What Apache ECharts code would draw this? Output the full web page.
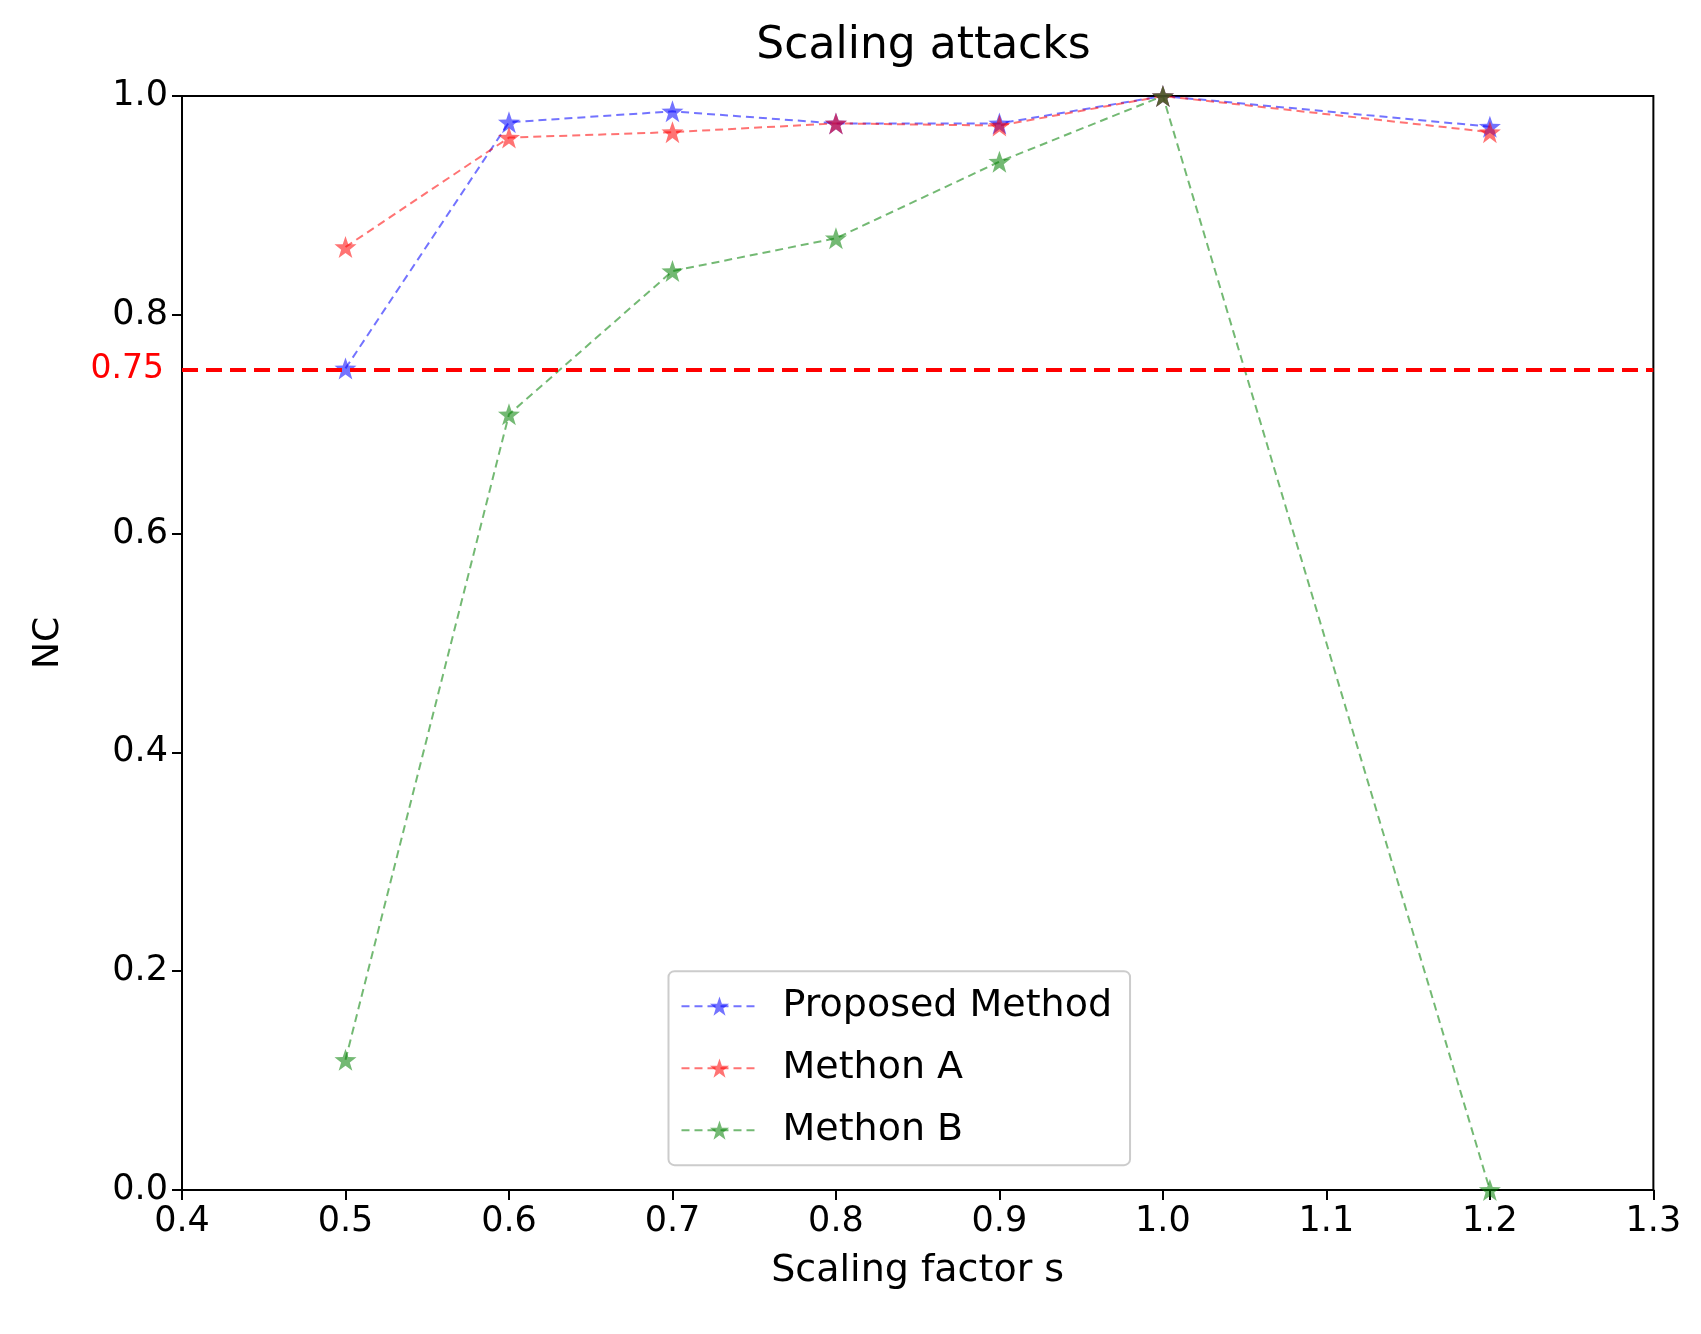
<!DOCTYPE html>
<html>
<head>
<meta charset="utf-8">
<script src="https://cdn.jsdelivr.net/npm/echarts@6/dist/echarts.min.js"></script>
<style>html,body{margin:0;padding:0;background:#fff}#chart{width:1701px;height:1334px}</style>
</head>
<body>
<div id="chart"></div>
<script>
// data
var scales = [0.5, 0.6, 0.7, 0.8, 0.9, 1.0, 1.2];
var proposed = [0.751, 0.976, 0.986, 0.975, 0.975, 1.0, 0.972];
var methodA = [0.862, 0.962, 0.967, 0.975, 0.973, 1.0, 0.967];
var methodB = [0.119, 0.709, 0.840, 0.870, 0.940, 1.0, 0.0];
var threshold = 0.75;

var star = 'path://M50,0 L62,34 L98,35 L69,57 L80,92 L50,71 L20,92 L31,57 L2,35 L38,34 Z';
var font = 'DejaVu Sans';

function pairs(vals) {
    return scales.map(function (s, i) { return [s, vals[i]]; });
}
function mkSeries(name, color, vals) {
    return {
        name: name, type: 'line', data: pairs(vals),
        symbol: star, symbolSize: 22,
        itemStyle: {color: color, opacity: 0.55},
        lineStyle: {color: color, width: 2, type: [8, 5], opacity: 0.55},
        z: 3
    };
}

var chart = echarts.init(document.getElementById('chart'));
var series = [
    mkSeries('Proposed Method', '#0000ff', proposed),
    mkSeries('Methon A', '#ff0000', methodA),
    mkSeries('Methon B', '#008000', methodB)
];
series[0].markLine = {
    silent: true, symbol: 'none',
    lineStyle: {color: '#ff0000', width: 4, type: [16, 8], opacity: 1},
    label: {show: true, position: 'start', formatter: '0.75', color: '#ff0000', fontSize: 33, fontFamily: font, distance: 18},
    data: [{yAxis: threshold}]
};
chart.setOption({
    animation: false,
    title: {text: 'Scaling attacks', left: '54%', textAlign: 'center', top: 20,
        textStyle: {fontSize: 44, fontWeight: 'normal', color: '#000', fontFamily: font}},
    grid: {left: '10.7%', right: '2.8%', top: '7.2%', bottom: '10.8%', show: true, borderColor: '#000', borderWidth: 2},
    legend: {
        orient: 'vertical', left: '39.3%', top: '72.8%',
        itemWidth: 76, itemHeight: 24, itemGap: 24,
        padding: [16, 18, 16, 12], borderColor: '#ccc', borderWidth: 2, borderRadius: 6,
        backgroundColor: '#fff',
        textStyle: {fontSize: 38, color: '#000', fontFamily: font, padding: [0, 0, 0, 20]}
    },
    xAxis: {
        type: 'value', min: 0.4, max: 1.3, interval: 0.1,
        name: 'Scaling factor s', nameLocation: 'middle', nameGap: 62,
        nameTextStyle: {fontSize: 38, color: '#000', fontFamily: font},
        axisLine: {lineStyle: {color: '#000', width: 2}},
        axisTick: {show: true, length: 10, lineStyle: {color: '#000', width: 2}},
        axisLabel: {fontSize: 35, color: '#000', fontFamily: font, margin: 14,
            formatter: function (v) { return v.toFixed(1); }},
        splitLine: {show: false}
    },
    yAxis: {
        type: 'value', min: 0, max: 1, interval: 0.2,
        name: 'NC', nameLocation: 'middle', nameGap: 115,
        nameTextStyle: {fontSize: 36, color: '#000', fontFamily: font},
        axisLine: {show: true, lineStyle: {color: '#000', width: 2}},
        axisTick: {show: true, length: 10, lineStyle: {color: '#000', width: 2}},
        axisLabel: {fontSize: 35, color: '#000', fontFamily: font, margin: 14,
            formatter: function (v) { return v.toFixed(1); }},
        splitLine: {show: false}
    },
    series: series
});
</script>
</body>
</html>
